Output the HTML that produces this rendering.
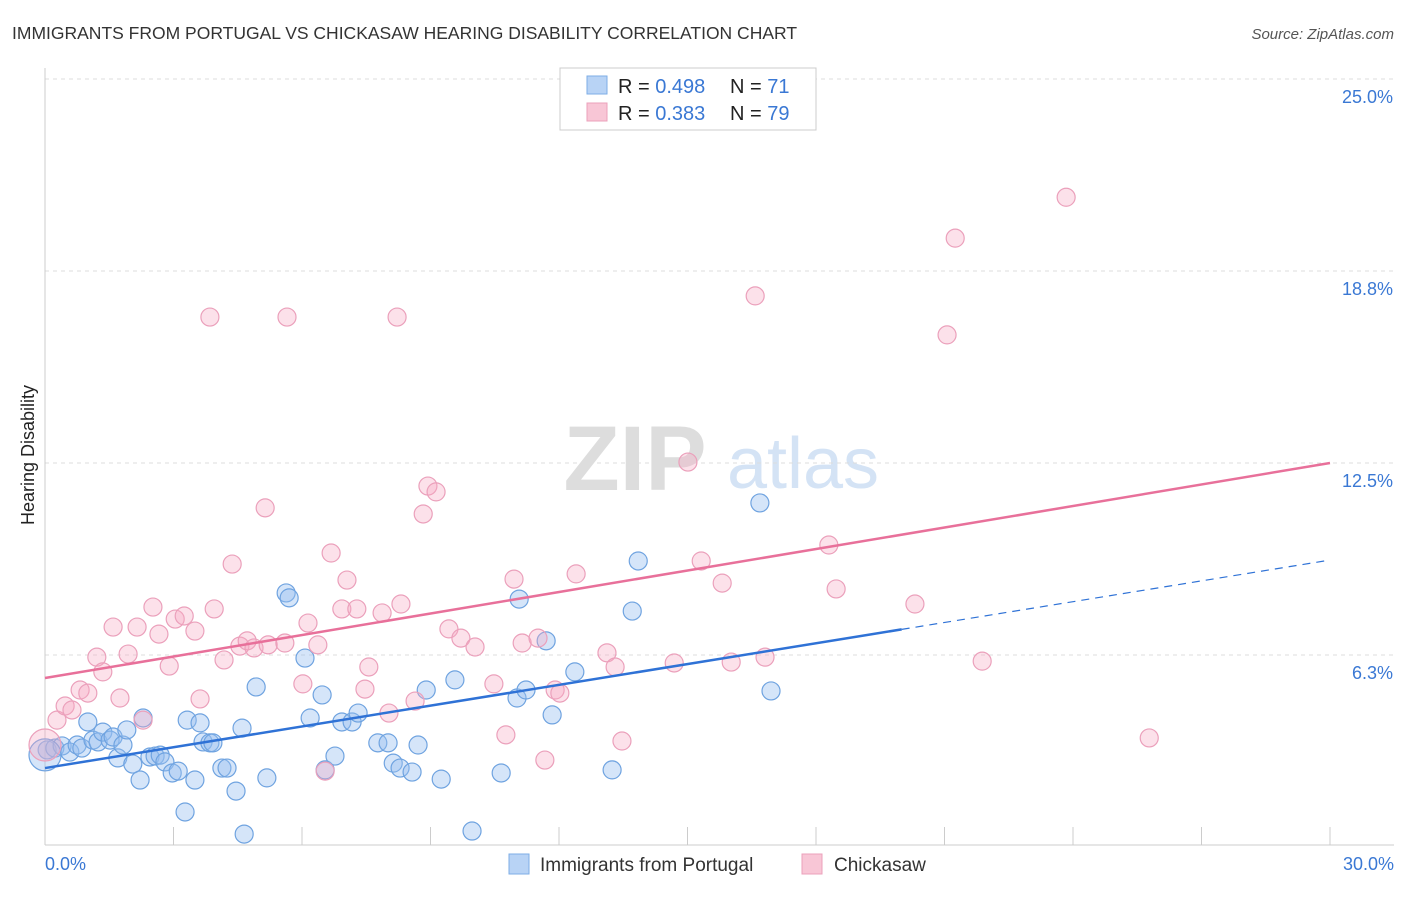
<!DOCTYPE html>
<html><head><meta charset="utf-8">
<style>
body{margin:0;background:#fff;font-family:"Liberation Sans",sans-serif;}
svg text{font-family:"Liberation Sans",sans-serif;}
</style></head>
<body>
<svg id="chart" width="1406" height="892" xmlns="http://www.w3.org/2000/svg">
<text x="12" y="39" font-size="17.5" fill="#333">IMMIGRANTS FROM PORTUGAL VS CHICKASAW HEARING DISABILITY CORRELATION CHART</text>
<text x="1394" y="39" font-size="15" fill="#555" font-style="italic" text-anchor="end">Source: ZipAtlas.com</text>
<g>
<text x="635" y="490" font-size="92" fill="#ddd" font-family="Liberation Serif" text-anchor="middle" font-weight="bold">ZIP</text>
<text x="803" y="488" font-size="72" fill="#d4e3f5" text-anchor="middle">atlas</text>
</g>
<g id="grid"></g>
<g id="axes"></g>
<g id="blue"></g>
<g id="pink"></g>
<g id="lines"></g>
<text x="34" y="455" font-size="18" fill="#222" text-anchor="middle" transform="rotate(-90 34 455)">Hearing Disability</text>
<g>
<rect x="560" y="68" width="256" height="62" fill="#fff" stroke="#ccc"/>
<rect x="587" y="76" width="20" height="18" fill="#b8d3f5" stroke="#7eaee6"/>
<rect x="587" y="103" width="20" height="18" fill="#f8c6d6" stroke="#eba0bb"/>
<text x="618" y="93" font-size="20" fill="#222">R = <tspan fill="#3a78d4">0.498</tspan></text>
<text x="730" y="93" font-size="20" fill="#222">N = <tspan fill="#3a78d4"> 71</tspan></text>
<text x="618" y="120" font-size="20" fill="#222">R = <tspan fill="#3a78d4">0.383</tspan></text>
<text x="730" y="120" font-size="20" fill="#222">N = <tspan fill="#3a78d4">79</tspan></text>
</g>
<g>
<rect x="509" y="854" width="20" height="20" fill="#b8d3f5" stroke="#7eaee6"/>
<text x="540" y="871" font-size="19" fill="#333">Immigrants from Portugal</text>
<rect x="802" y="854" width="20" height="20" fill="#f8c6d6" stroke="#eba0bb"/>
<text x="834" y="871" font-size="19" fill="#333">Chickasaw</text>
</g>
</svg>
<script>
const yTicks=[6.3,12.5,18.8,25.0];
const yTickVals=[6.25,12.5,18.75,25];
const xTickLabels=["0.0%","30.0%"];
const blueX=[0.05,0.23,0.40,0.58,0.75,0.86,1.00,1.12,1.24,1.35,1.52,1.59,1.70,1.82,1.91,2.05,2.22,2.29,2.45,2.57,2.69,2.80,2.97,3.11,3.27,3.32,3.50,3.62,3.69,3.85,3.92,4.13,4.25,4.46,4.60,4.65,4.93,5.18,5.63,5.70,6.07,6.19,6.47,6.54,6.77,6.93,7.17,7.31,7.77,8.01,8.13,8.29,8.57,8.71,8.90,9.25,9.57,9.97,10.65,11.02,11.07,11.23,11.70,11.84,12.37,13.24,13.71,13.85,16.69,16.95,0];
const blueY=[3.16,3.22,3.29,3.09,3.32,3.22,4.07,3.48,3.42,3.74,3.48,3.58,2.90,3.32,3.81,2.70,2.18,4.20,2.93,2.96,2.99,2.77,2.41,2.47,1.14,4.13,2.18,4.04,3.42,3.39,3.39,2.57,2.57,1.82,3.87,0.42,5.21,2.25,8.27,8.11,6.15,4.20,4.95,2.51,2.96,4.07,4.07,4.36,3.39,3.39,2.73,2.57,2.44,3.32,5.11,2.21,5.44,0.52,2.41,4.85,8.07,5.11,6.71,4.30,5.70,2.51,7.68,9.31,11.20,5.08,3.0];
const pinkX=[0,0.28,0.47,0.63,0.82,1.00,1.21,1.35,1.59,1.75,1.94,2.15,2.29,2.52,2.66,2.90,3.04,3.25,3.50,3.62,3.85,3.95,4.18,4.37,4.55,4.72,4.88,5.14,5.21,5.60,5.65,6.02,6.14,6.37,6.54,6.68,6.93,7.05,7.28,7.47,7.56,7.87,8.03,8.22,8.31,8.64,8.83,8.94,9.13,9.43,9.71,10.04,10.48,10.76,10.95,11.14,11.51,11.67,11.91,12.02,12.40,13.12,13.31,13.47,14.69,15.01,15.32,15.81,16.02,16.58,16.81,18.30,18.47,21.06,21.25,20.31,21.88,23.84,25.78];
const pinkY=[3.32,4.13,4.59,4.46,5.11,5.01,6.18,5.70,7.16,4.85,6.28,7.16,4.13,7.81,6.93,5.89,7.42,7.52,7.03,4.82,17.25,7.75,6.09,9.21,6.54,6.71,6.48,11.04,6.58,6.64,17.25,5.31,7.29,6.58,2.47,9.57,7.75,8.69,7.75,5.14,5.86,7.62,4.36,17.25,7.91,4.75,10.84,11.75,11.56,7.10,6.80,6.51,5.31,3.65,8.72,6.64,6.80,2.83,5.11,5.01,8.89,6.32,5.86,3.45,5.99,12.53,9.31,8.59,6.02,17.94,6.18,9.83,8.40,16.67,19.82,7.91,6.05,21.15,3.55];
const blueTrend=[2.57,9.34];
const pinkTrend=[5.5,12.5];
const NS="http://www.w3.org/2000/svg";
const x0=45,x1=1330,yBase=847,pxPerY=30.72;
function sx(v){return x0+v*(x1-x0)/30;}
function sy(v){return yBase-v*pxPerY;}
function mk(tag,attrs,parent){const e=document.createElementNS(NS,tag);for(const k in attrs)e.setAttribute(k,attrs[k]);parent.appendChild(e);return e;}
const grid=document.getElementById('grid'),axes=document.getElementById('axes');
mk('line',{x1:45,x2:1394,y1:sy(25),y2:sy(25),stroke:'#ddd','stroke-dasharray':'4,4'},grid);
yTickVals.forEach((v,i)=>{
 const l=mk('line',{x1:45,x2:1394,y1:sy(v),y2:sy(v),stroke:'#ddd','stroke-dasharray':'4,4'},grid);
 
 
 const t=mk('text',{x:1393,y:sy(v)+24,'font-size':18,fill:'#3a78d4','text-anchor':'end'},axes);
 t.textContent=yTicks[i].toFixed(1)+'%';
 
 
});
mk('line',{x1:45,x2:45,y1:68,y2:845,stroke:'#ccc'},axes);
mk('line',{x1:45,x2:1394,y1:845,y2:845,stroke:'#ccc'},axes);
for(let i=0;i<=10;i++){const tk=mk('line',{x1:sx(i*3),x2:sx(i*3),y1:827,y2:845,stroke:'#ccc'},axes);
 
 }
const xl0=mk('text',{x:45,y:870,'font-size':18,fill:'#3a78d4'},axes);xl0.textContent=xTickLabels[0];


const xl1=mk('text',{x:1394,y:870,'font-size':18,fill:'#3a78d4','text-anchor':'end'},axes);xl1.textContent=xTickLabels[1];


function pts(xs,ys,g,fill,stroke){xs.forEach((x,i)=>{const big=(x===0);
 const c=mk('circle',{cx:sx(x),cy:sy(ys[i]),r:big?16:9,fill:fill,stroke:stroke,'stroke-width':1.2},g);
 
 });}
pts(blueX,blueY,document.getElementById('blue'),'rgba(150,190,240,0.4)','#6fa3e0');
pts(pinkX,pinkY,document.getElementById('pink'),'rgba(245,170,195,0.35)','#eba0bb');
const lg=document.getElementById('lines');
const bAt=v=>blueTrend[0]+(blueTrend[1]-blueTrend[0])*v/30;
const bl=mk('line',{x1:sx(0),y1:sy(bAt(0)),x2:sx(20),y2:sy(bAt(20)),stroke:'#2f72d6','stroke-width':2.5},lg);


const bd=mk('line',{x1:sx(20),y1:sy(bAt(20)),x2:sx(30),y2:sy(bAt(30)),stroke:'#2f72d6','stroke-width':1.2,'stroke-dasharray':'8,6'},lg);


const pl=mk('line',{x1:sx(0),y1:sy(pinkTrend[0]),x2:sx(30),y2:sy(pinkTrend[1]),stroke:'#e8709a','stroke-width':2.5},lg);


</script>
</body></html>
